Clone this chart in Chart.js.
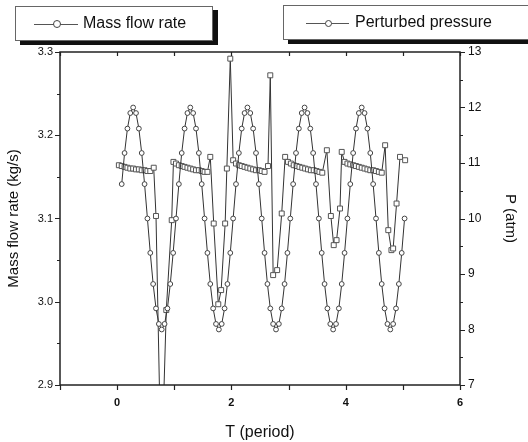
<html>
<head>
<meta charset="utf8"/>
<title>Mass flow rate and perturbed pressure</title>
<script src="https://cdn.jsdelivr.net/npm/chart.js"></script>
<style type="text/css">
html, body{
  margin: 0;
  padding: 0;
  background-color: #fff;
}
#wrap{
  position: relative;
  width: 528px;
  height: 442px;
  overflow: hidden;
}
#chart{
  position: absolute;
  left: 0;
  top: 0;
}
.leg{
  position: absolute;
  border: 1px solid #666;
  background: #fff;
  box-shadow: 5px 4px 0 #111;
  font-family: "Liberation Sans", Arial, sans-serif;
  color: #111;
}
.leg .line{
  position: absolute;
  height: 0;
  border-top: 1px solid #555;
}
.leg .dot{
  position: absolute;
  border: 1px solid #444;
  border-radius: 50%;
  background: #fff;
}
.leg .txt{
  position: absolute;
  white-space: nowrap;
}
</style>
</head>
<body>
<div id="wrap">
  <canvas id="chart" width="528" height="442"></canvas>
  <div class="leg" style="left:15px; top:6px; width:196px; height:33px;">
    <div class="line" style="left:18px; top:17px; width:44px;"></div>
    <div class="dot" style="left:37px; top:13px; width:6px; height:6px;"></div>
    <div class="txt" style="left:67px; top:7px; font-size:16px;">Mass flow rate</div>
  </div>
  <div class="leg" style="left:283px; top:5px; width:270px; height:33px;">
    <div class="line" style="left:22px; top:17px; width:43px;"></div>
    <div class="dot" style="left:41px; top:14px; width:5px; height:5px;"></div>
    <div class="txt" style="left:71px; top:7px; font-size:16px;">Perturbed pressure</div>
  </div>
</div>
<script>
// perturbed pressure (atm), sampled every 0.05 period
const pT = [
  0.08, 0.13, 0.18, 0.23, 0.28, 0.33, 0.38, 0.43, 0.48, 0.53, 0.58, 0.63, 0.68, 0.73, 0.78, 0.83, 0.88, 0.93, 0.98, 1.03,
  1.08, 1.13, 1.18, 1.23, 1.28, 1.33, 1.38, 1.43, 1.48, 1.53, 1.58, 1.63, 1.68, 1.73, 1.78, 1.83, 1.88, 1.93, 1.98, 2.03,
  2.08, 2.13, 2.18, 2.23, 2.28, 2.33, 2.38, 2.43, 2.48, 2.53, 2.58, 2.63, 2.68, 2.73, 2.78, 2.83, 2.88, 2.93, 2.98, 3.03,
  3.08, 3.13, 3.18, 3.23, 3.28, 3.33, 3.38, 3.43, 3.48, 3.53, 3.58, 3.63, 3.68, 3.73, 3.78, 3.83, 3.88, 3.93, 3.98, 4.03,
  4.08, 4.13, 4.18, 4.23, 4.28, 4.33, 4.38, 4.43, 4.48, 4.53, 4.58, 4.63, 4.68, 4.73, 4.78, 4.83, 4.88, 4.93, 4.98, 5.03
];
const pV = [
  10.62, 11.18, 11.62, 11.90, 12.00, 11.90, 11.62, 11.18, 10.62, 10.00, 9.38, 8.82, 8.38, 8.10, 8.00, 8.10, 8.38, 8.82, 9.38, 10.00,
  10.62, 11.18, 11.62, 11.90, 12.00, 11.90, 11.62, 11.18, 10.62, 10.00, 9.38, 8.82, 8.38, 8.10, 8.00, 8.10, 8.38, 8.82, 9.38, 10.00,
  10.62, 11.18, 11.62, 11.90, 12.00, 11.90, 11.62, 11.18, 10.62, 10.00, 9.38, 8.82, 8.38, 8.10, 8.00, 8.10, 8.38, 8.82, 9.38, 10.00,
  10.62, 11.18, 11.62, 11.90, 12.00, 11.90, 11.62, 11.18, 10.62, 10.00, 9.38, 8.82, 8.38, 8.10, 8.00, 8.10, 8.38, 8.82, 9.38, 10.00,
  10.62, 11.18, 11.62, 11.90, 12.00, 11.90, 11.62, 11.18, 10.62, 10.00, 9.38, 8.82, 8.38, 8.10, 8.00, 8.10, 8.38, 8.82, 9.38, 10.00
];

// mass flow rate (kg/s)
const massT = [
  0.03, 0.08, 0.13, 0.18, 0.23, 0.28, 0.33, 0.38, 0.43, 0.48, 0.53, 0.58, 0.64, 0.68, 0.745, 0.80, 0.86, 0.955, 0.985,
  1.03, 1.08, 1.13, 1.18, 1.23, 1.28, 1.33, 1.38, 1.43, 1.48, 1.53, 1.58, 1.63, 1.69, 1.77, 1.82, 1.89, 1.92, 1.98, 2.03,
  2.08, 2.13, 2.18, 2.23, 2.28, 2.33, 2.38, 2.43, 2.48, 2.53, 2.58, 2.64, 2.68, 2.73, 2.80, 2.88, 2.94,
  2.99, 3.04, 3.09, 3.14, 3.19, 3.24, 3.29, 3.34, 3.39, 3.44, 3.49, 3.54, 3.59, 3.67, 3.74, 3.79, 3.84, 3.90, 3.93,
  3.98, 4.03, 4.08, 4.13, 4.18, 4.23, 4.28, 4.33, 4.38, 4.43, 4.48, 4.53, 4.58, 4.63, 4.69, 4.745, 4.80, 4.83, 4.89, 4.95, 5.04
];
const massV = [
  3.164, 3.163, 3.162, 3.161, 3.160, 3.160, 3.159, 3.159, 3.158, 3.158, 3.157, 3.157, 3.161, 3.103, 2.880, 2.850, 2.990, 3.098, 3.168,
  3.166, 3.164, 3.163, 3.162, 3.161, 3.160, 3.159, 3.158, 3.158, 3.157, 3.156, 3.156, 3.174, 3.094, 2.997, 3.014, 3.094, 3.160, 3.292, 3.170,
  3.166, 3.164, 3.163, 3.162, 3.161, 3.160, 3.159, 3.158, 3.158, 3.157, 3.156, 3.163, 3.272, 3.032, 3.038, 3.106, 3.174,
  3.168, 3.166, 3.164, 3.163, 3.162, 3.161, 3.160, 3.159, 3.158, 3.158, 3.157, 3.156, 3.155, 3.182, 3.103, 3.068, 3.074, 3.112, 3.180,
  3.168, 3.166, 3.165, 3.164, 3.163, 3.162, 3.161, 3.160, 3.159, 3.158, 3.158, 3.157, 3.156, 3.155, 3.188, 3.086, 3.062, 3.064, 3.118, 3.174, 3.170
];

const xLabels = [0, 2, 4, 6];
const massTicks = [2.9, 3.0, 3.1, 3.2, 3.3];
const presTicks = [7, 8, 9, 10, 11, 12, 13];

const FONT = '"Liberation Sans", Arial, sans-serif';
const INK = '#222';

// axis frame and tick marks, placed through the chart's own scales
const frame = {
  id: 'frame',
  afterDatasetsDraw(chart){
    const ctx = chart.ctx;
    const a = chart.chartArea;
    const sx = chart.scales.x, sy = chart.scales.y, sy2 = chart.scales.y2;
    ctx.save();
    ctx.strokeStyle = INK;
    ctx.lineWidth = 1.5;
    ctx.strokeRect(a.left, a.top, a.right - a.left, a.bottom - a.top);
    ctx.lineWidth = 1.2;
    ctx.beginPath();
    for( let v = -1; v <= 6; v++ ){
      const x = Math.round( sx.getPixelForValue( v ) ) + 0.5;
      ctx.moveTo( x, a.bottom ); ctx.lineTo( x, a.bottom + 5 );
      ctx.moveTo( x, a.top ); ctx.lineTo( x, a.top + 4 );
    }
    for( let i = 0; i <= 8; i++ ){
      const y = Math.round( sy.getPixelForValue( 2.9 + i * 0.05 ) ) + 0.5;
      const len = ( i % 2 === 0 ) ? 5 : 3;
      ctx.moveTo( a.left, y ); ctx.lineTo( a.left - len, y );
    }
    for( let i = 0; i <= 12; i++ ){
      const y = Math.round( sy2.getPixelForValue( 7 + i * 0.5 ) ) + 0.5;
      const len = ( i % 2 === 0 ) ? 5 : 3;
      ctx.moveTo( a.right, y ); ctx.lineTo( a.right + len, y );
    }
    ctx.stroke();
    ctx.restore();
  }
};

new Chart( document.getElementById( 'chart' ), {
  type: 'line',
  data: {
    datasets: [{
      label: 'Perturbed pressure',
      data: pT.map( ( t, i ) => ({ x: t, y: pV[i] }) ),
      yAxisID: 'y2',
      borderColor: '#333',
      borderWidth: 1,
      pointStyle: 'circle',
      pointRadius: 2.4,
      pointBorderWidth: 1,
      pointBorderColor: '#444',
      pointBackgroundColor: '#fff',
      tension: 0
    }, {
      label: 'Mass flow rate',
      data: massT.map( ( t, i ) => ({ x: t, y: massV[i] }) ),
      yAxisID: 'y',
      borderColor: '#333',
      borderWidth: 1,
      pointStyle: 'rect',
      pointRadius: 3.5,
      pointBorderWidth: 1,
      pointBorderColor: '#555',
      pointBackgroundColor: '#fff',
      tension: 0
    }]
  },
  options: {
    responsive: false,
    animation: false,
    devicePixelRatio: 1,
    layout: { padding: { top: 52, left: 0, right: 0, bottom: 0 } },
    plugins: {
      legend: { display: false },
      tooltip: { enabled: false }
    },
    scales: {
      x: {
        type: 'linear',
        position: 'bottom',
        min: -1,
        max: 6,
        grid: { display: false, drawTicks: false },
        border: { display: false },
        afterBuildTicks: s => { s.ticks = xLabels.map( v => ({ value: v }) ); },
        ticks: {
          padding: 11,
          color: '#111',
          font: { family: FONT, size: 11, weight: 'bold' },
          maxRotation: 0
        },
        title: {
          display: true,
          text: 'T (period)',
          color: '#111',
          font: { family: FONT, size: 16 },
          padding: { top: 0, bottom: 0 }
        },
        afterFit: s => { s.height = 57; }
      },
      y: {
        type: 'linear',
        position: 'left',
        min: 2.9,
        max: 3.3,
        grid: { display: false, drawTicks: false },
        border: { display: false },
        afterBuildTicks: s => { s.ticks = massTicks.map( v => ({ value: v }) ); },
        ticks: {
          padding: 7,
          color: '#111',
          font: { family: FONT, size: 11 },
          callback: v => v.toFixed( 1 )
        },
        title: {
          display: true,
          text: 'Mass flow rate (kg/s)',
          color: '#111',
          font: { family: FONT, size: 15 },
          padding: { top: 5, bottom: 0 }
        },
        afterFit: s => { s.width = 60; }
      },
      y2: {
        type: 'linear',
        position: 'right',
        min: 7,
        max: 13,
        grid: { display: false, drawTicks: false },
        border: { display: false },
        afterBuildTicks: s => { s.ticks = presTicks.map( v => ({ value: v }) ); },
        ticks: {
          padding: 8,
          color: '#111',
          font: { family: FONT, size: 12 }
        },
        title: {
          display: true,
          text: 'P (atm)',
          color: '#111',
          font: { family: FONT, size: 15 },
          padding: { top: 9, bottom: 0 }
        },
        afterFit: s => { s.width = 68; }
      }
    }
  },
  plugins: [ frame ]
});
</script>
</body>
</html>
